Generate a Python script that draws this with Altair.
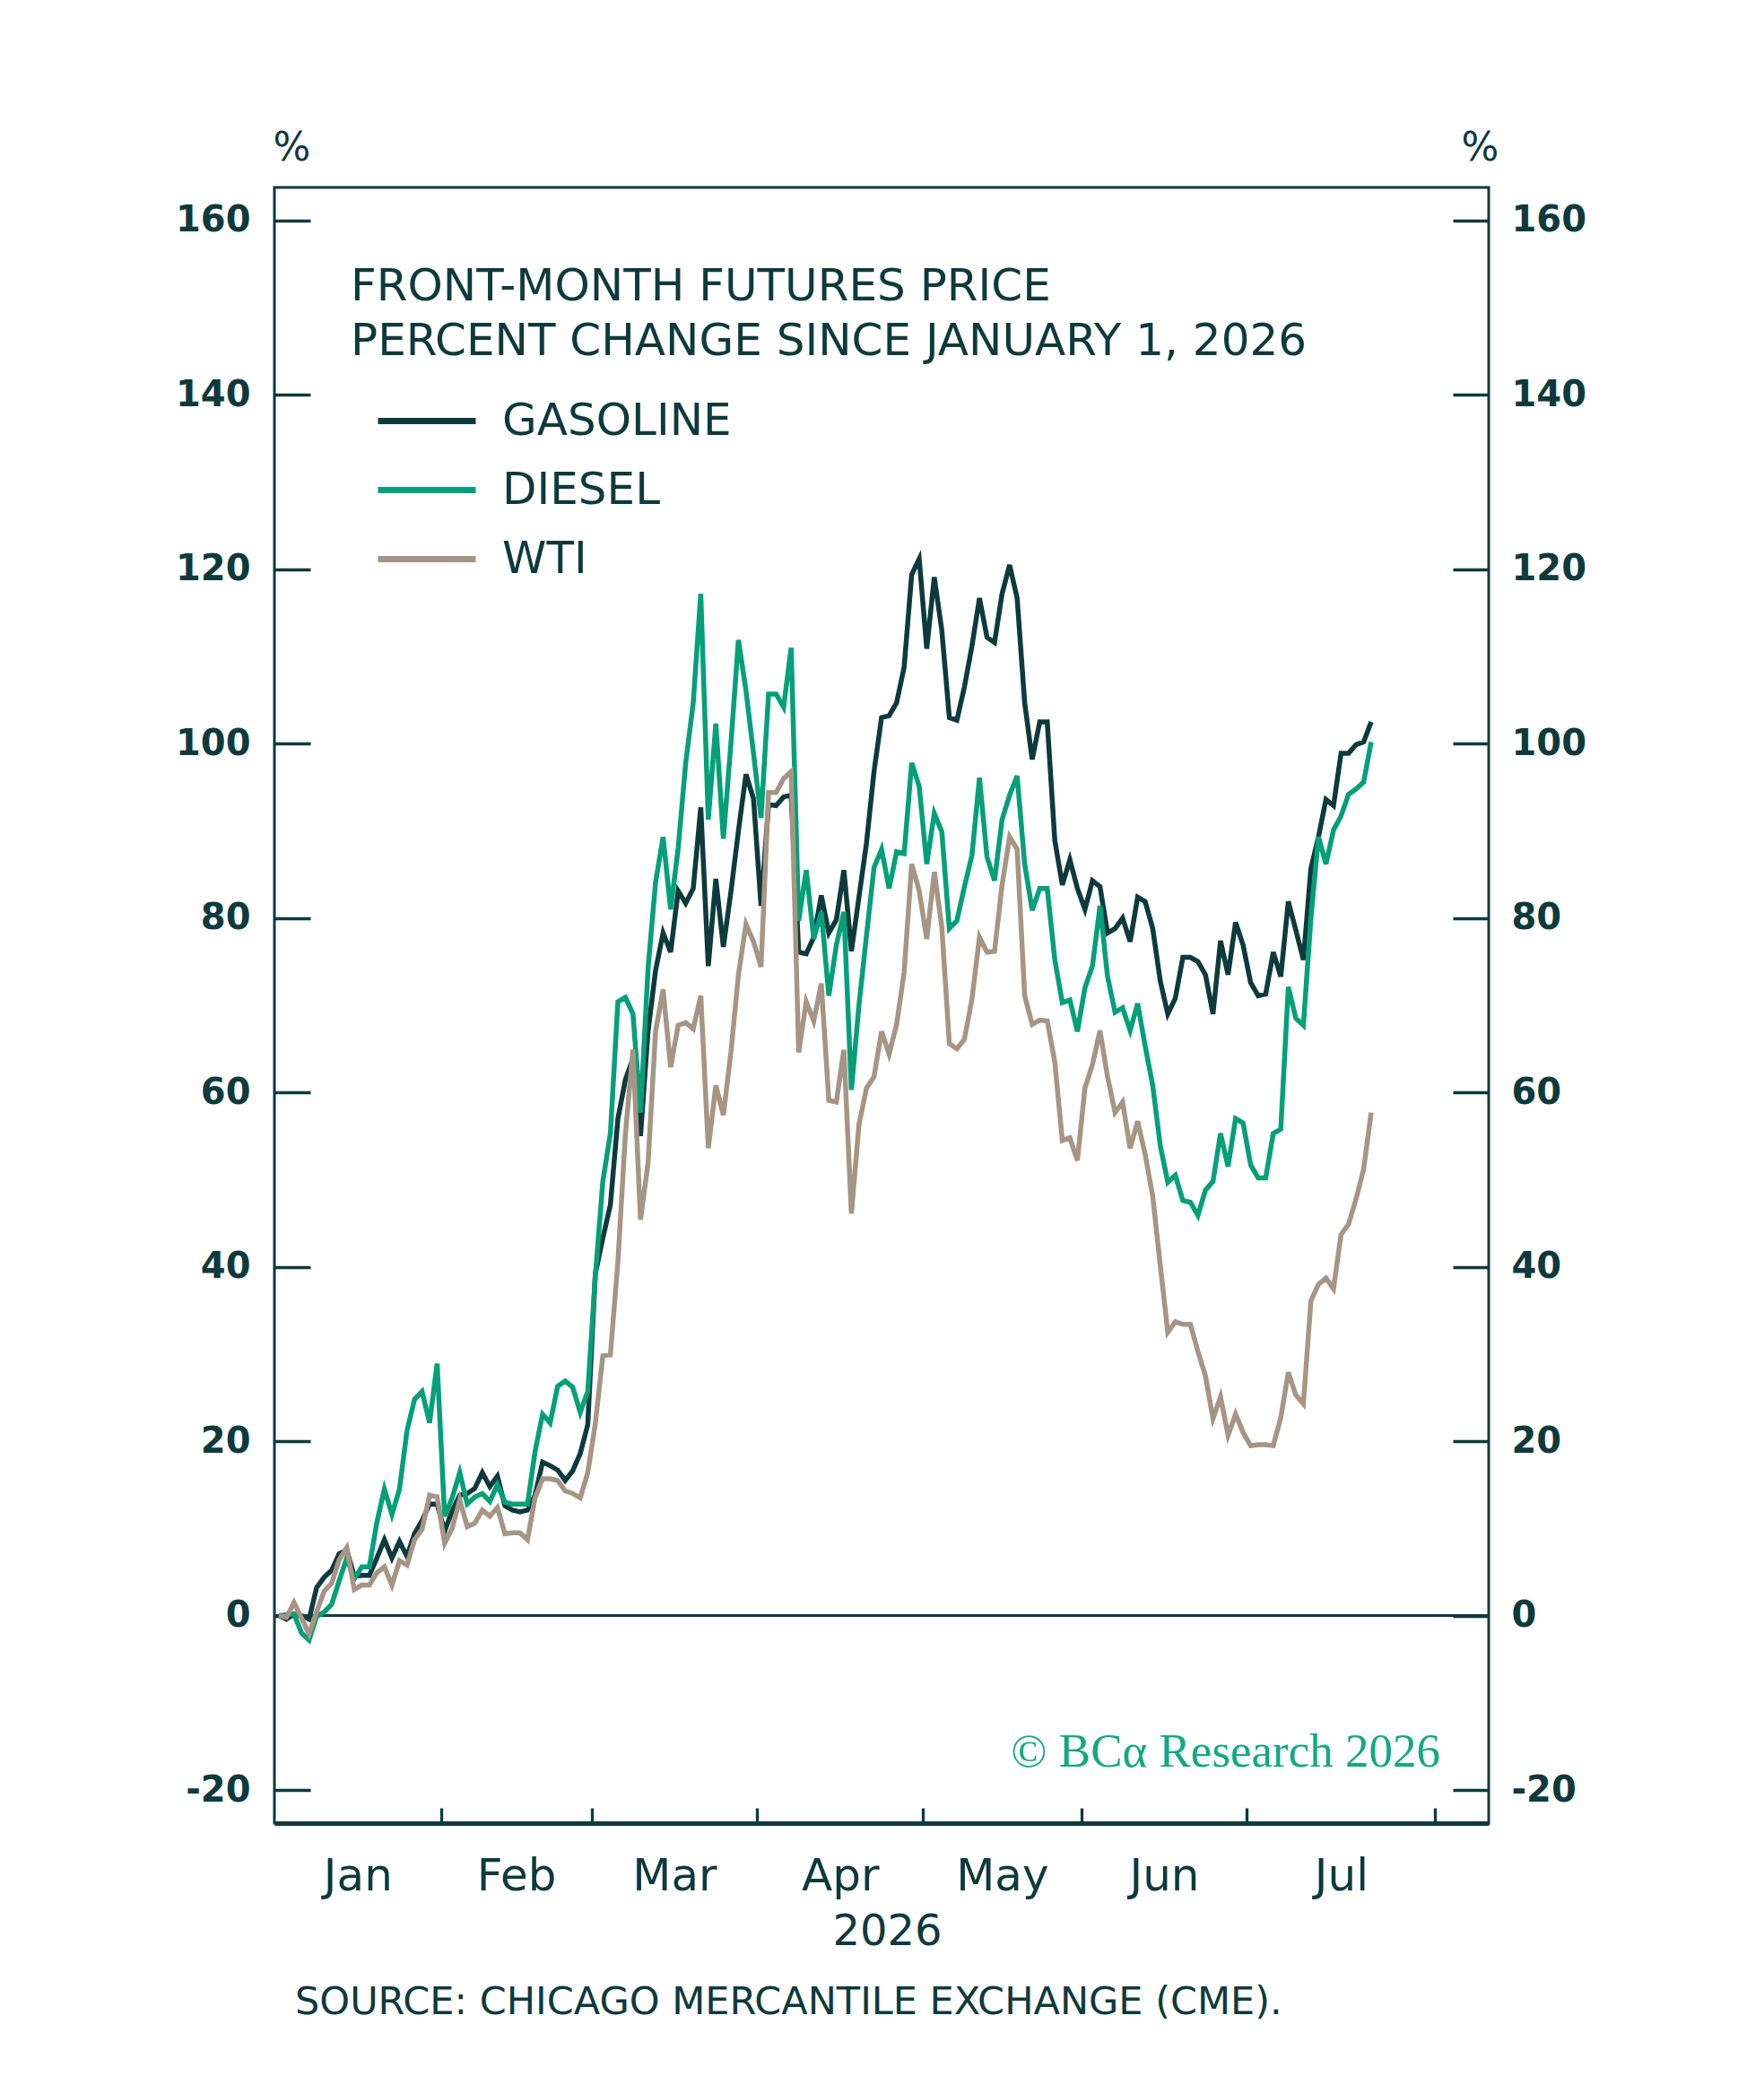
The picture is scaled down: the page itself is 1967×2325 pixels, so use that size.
import json
import pandas as pd
import altair as alt

# trading-day index since Jan 1 2026 (day 0 = Jan 1), % change
GASOLINE = [
    0, -0.4, 0.2, 0, -0.4, 3.2, 4.4, 5.2, 7.1, 7.5,
    4.5, 4.6, 4.6, 6.6, 8.7, 6.6, 8.5, 6.8, 9.4, 10.9,
    12.8, 12.8, 9.7, 12.0, 13.8, 14.0, 14.6, 16.4, 14.8, 16.0,
    12.6, 12.1, 11.9, 12.1, 13.8, 17.6, 17.2, 16.7, 15.5, 16.6,
    18.6, 21.9, 39.2, 43.3, 47.1, 57.0, 61.5, 63.9, 55.0, 67.0,
    74.0, 78.3, 76.1, 83.1, 81.7, 83.4, 92.7, 74.5, 84.5, 76.7,
    83.0, 90.0, 96.5, 93.7, 81.4, 93.0, 92.9, 93.9, 94.1, 76.1,
    75.9, 77.8, 82.6, 78.3, 79.8, 85.5, 76.2, 82.4, 88.6, 96.8,
    103.0, 103.2, 104.7, 108.8, 119.4, 121.2, 110.9, 119.1, 113.0, 103.0,
    102.7, 106.5, 111.2, 116.7, 112.2, 111.6, 117.2, 120.5, 116.7, 104.7,
    98.2, 102.5, 102.5, 88.9, 83.8, 86.7, 83.4, 81.0, 84.3, 83.6,
    78.3, 78.8, 80.0, 77.3, 82.4, 81.9, 78.8, 72.8, 69.0, 70.8,
    75.5, 75.5, 75.0, 73.5, 69.0, 77.4, 73.5, 79.5, 76.9, 72.6,
    71.1, 71.3, 76.1, 73.3, 81.9, 78.6, 75.2, 85.7, 89.3, 93.6,
    92.9, 98.9, 98.9, 99.9, 100.2, 102.5,
]
DIESEL = [
    0, 0.1, 0.2, -2.0, -2.8, -0.1, 0.4, 1.3, 4.0, 6.6,
    4.2, 5.6, 5.6, 10.7, 14.5, 11.6, 14.5, 21.2, 24.8, 25.7,
    22.1, 28.9, 11.4, 13.5, 16.4, 12.8, 13.6, 14.0, 13.1, 15.0,
    13.0, 12.8, 12.8, 12.8, 18.8, 23.1, 22.1, 26.3, 26.9, 26.2,
    23.3, 25.7, 38.9, 49.8, 55.3, 70.4, 70.9, 69.0, 57.7, 74.2,
    84.1, 89.3, 81.0, 88.0, 97.8, 104.7, 117.2, 91.3, 102.3, 89.1,
    100.0, 111.9, 106.1, 98.9, 91.5, 105.7, 105.7, 104.2, 111.0, 79.7,
    85.5, 77.6, 80.7, 71.1, 76.9, 80.7, 60.3, 70.0, 78.0, 85.8,
    87.9, 83.4, 87.6, 87.4, 97.8, 95.1, 86.2, 92.0, 89.9, 78.8,
    79.7, 83.6, 87.2, 96.1, 87.0, 84.3, 91.3, 94.1, 96.3, 86.2,
    80.9, 83.4, 83.4, 75.2, 70.3, 70.6, 67.0, 72.0, 74.5, 81.4,
    73.3, 69.2, 69.7, 67.1, 70.2, 65.3, 60.8, 53.9, 49.7, 50.5,
    47.6, 47.4, 45.9, 48.8, 49.8, 55.3, 51.5, 57.0, 56.5, 51.7,
    50.2, 50.2, 55.3, 55.8, 72.1, 68.5, 67.7, 80.0, 89.3, 86.2,
    90.1, 91.7, 94.2, 94.8, 95.6, 100.2,
]
WTI = [
    0, -0.2, 1.5, -0.3, -2.1, 0.4, 2.8, 3.7, 6.4, 7.8,
    3.0, 3.5, 3.5, 4.9, 5.6, 3.5, 6.3, 5.8, 8.7, 9.9,
    13.8, 13.6, 8.3, 10.0, 13.3, 10.2, 10.6, 12.1, 11.4, 12.4,
    9.4, 9.5, 9.5, 8.7, 13.5, 15.7, 15.7, 15.5, 14.3, 14.0,
    13.5, 16.4, 22.0, 29.8, 29.9, 40.6, 55.3, 64.9, 45.4, 51.9,
    67.0, 71.8, 62.9, 67.7, 68.0, 67.3, 71.1, 53.6, 60.8, 57.4,
    64.6, 73.5, 79.3, 77.3, 74.4, 94.4, 94.4, 96.0, 96.8, 64.6,
    70.4, 68.2, 72.5, 59.1, 58.9, 64.9, 46.1, 56.3, 60.5, 61.8,
    67.0, 64.4, 67.8, 73.8, 86.2, 83.1, 77.6, 85.3, 79.0, 65.6,
    65.0, 66.1, 70.7, 77.8, 76.1, 76.2, 83.8, 89.3, 87.9, 71.1,
    67.8, 68.3, 68.2, 63.5, 54.5, 54.8, 52.2, 60.5, 63.2, 67.1,
    61.8, 57.7, 58.9, 53.6, 56.7, 52.9, 48.1, 40.2, 32.5, 33.7,
    33.4, 33.4, 30.3, 27.5, 22.6, 25.1, 20.7, 23.1, 21.0, 19.5,
    19.6, 19.6, 19.5, 22.7, 27.9, 25.3, 24.3, 36.1, 38.0, 38.7,
    37.5, 43.7, 44.9, 47.8, 51.2, 57.7,
]

SERIES = ["GASOLINE", "DIESEL", "WTI"]
COLORS = ["#0e3a3d", "#05a078", "#a69584"]

Y_TICKS = [-20, 0, 20, 40, 60, 80, 100, 120, 140, 160]
MONTHS = ["Jan", "Feb", "Mar", "Apr", "May", "Jun", "Jul"]
MONTH_MID = [10.45, 31.5, 52.5, 74.5, 96, 117.5, 141]
MONTH_EDGES = [21.5, 41.5, 63.5, 85.5, 106.5, 128.5, 153.5]

TITLE = ["FRONT-MONTH FUTURES PRICE", "PERCENT CHANGE SINCE JANUARY 1, 2026"]
SOURCE = "SOURCE: CHICAGO MERCANTILE EXCHANGE (CME)."
COPYRIGHT = "\u00a9 BC\u03b1 Research 2026"

W, H = 1354, 1824
FONT = "DejaVu Sans"
INK = "#0e3a3d"

rows = []
for name, vals in zip(SERIES, [GASOLINE, DIESEL, WTI]):
    for i, v in enumerate(vals):
        rows.append({"day": i, "pct": v, "series": name})
df = pd.DataFrame(rows)

xs = alt.Scale(domain=[-0.6, 160.6], nice=False, zero=False)
ys = alt.Scale(domain=[-23.8, 163.8], nice=False, zero=False)

month_expr = f"{json.dumps(MONTHS)}[indexof({json.dumps(MONTH_MID)}, datum.value)]"

zero = alt.Chart(pd.DataFrame({"pct": [0]})).mark_rule(color=INK, strokeWidth=3).encode(
    y=alt.Y("pct:Q", scale=ys, axis=None)
)

lines = alt.Chart(df).mark_line(strokeWidth=5.5, strokeJoin="miter").encode(
    x=alt.X("day:Q", scale=xs,
            axis=alt.Axis(orient="bottom", values=MONTH_MID, labelExpr=month_expr,
                          ticks=False, tickSize=0, grid=False,
                          domainColor=INK, domainWidth=5,
                          labelFontSize=50, labelPadding=74, labelBaseline="alphabetic",
                          labelFlush=False, labelOverlap=False,
                          title="2026", titleFontSize=48, titleX=683, titleY=135,
                          titleAlign="center", titleBaseline="alphabetic")),
    y=alt.Y("pct:Q", scale=ys,
            axis=alt.Axis(orient="left", values=Y_TICKS, labelExpr="toString(datum.value)",
                          ticks=False, tickSize=0,
                          domain=False, grid=False, labelPadding=27, labelFontSize=40,
                          labelFontWeight="bold",
                          title="%", titleAngle=0, titleX=19, titleY=-31,
                          titleAlign="center", titleBaseline="alphabetic", titleFontSize=44)),
    color=alt.Color("series:N", scale=alt.Scale(domain=SERIES, range=COLORS),
                    legend=alt.Legend(orient="none", legendX=112, legendY=222,
                                      direction="vertical", title=None,
                                      symbolType="stroke", symbolSize=11881,
                                      symbolStrokeWidth=7, labelOffset=26,
                                      rowPadding=0, clipHeight=77, padding=0,
                                      labelLimit=0, labelFontSize=50, labelFont=FONT,
                                      labelColor=INK)),
)

# right-hand labels
right_labels = alt.Chart(df).mark_line(opacity=0).encode(
    x=alt.X("day:Q", scale=xs, axis=None),
    y=alt.Y("pct:Q", scale=ys,
            axis=alt.Axis(orient="right", values=Y_TICKS, labelExpr="toString(datum.value)",
                          ticks=False, tickSize=0,
                          domain=False, grid=False, labelPadding=25, labelFontSize=40,
                          labelFontWeight="bold",
                          title="%", titleAngle=0, titleX=-10, titleY=-31,
                          titleAlign="center", titleBaseline="alphabetic", titleFontSize=44)),
    detail="series:N",
)

# inward ticks: axes flipped and pushed across the plot
left_ticks = alt.Chart(df).mark_line(opacity=0).encode(
    x=alt.X("day:Q", scale=xs, axis=None),
    y=alt.Y("pct:Q", scale=ys,
            axis=alt.Axis(orient="right", offset=-W, values=Y_TICKS, labels=False,
                          tickSize=40, tickWidth=3.3, tickColor=INK,
                          domain=False, grid=False, title="")),
    detail="series:N",
)
right_ticks = alt.Chart(df).mark_line(opacity=0).encode(
    x=alt.X("day:Q", scale=xs, axis=None),
    y=alt.Y("pct:Q", scale=ys,
            axis=alt.Axis(orient="left", offset=-W, values=Y_TICKS, labels=False,
                          tickSize=40, tickWidth=3.3, tickColor=INK,
                          domain=False, grid=False, title="")),
    detail="series:N",
)
x_ticks = alt.Chart(df).mark_line(opacity=0).encode(
    x=alt.X("day:Q", scale=xs,
            axis=alt.Axis(orient="top", offset=-H, values=MONTH_EDGES, labels=False,
                          tickSize=17, tickWidth=3.3, tickColor=INK,
                          domain=False, grid=False, title="")),
    y=alt.Y("pct:Q", scale=ys, axis=None),
    detail="series:N",
)

title = alt.Chart(pd.DataFrame({"t": ["\n".join(TITLE)]})).mark_text(
    align="left", baseline="alphabetic", lineBreak="\n", lineHeight=61,
    fontSize=50, font=FONT, color=INK
).encode(text="t:N", x=alt.value(85), y=alt.value(126))

source = alt.Chart(pd.DataFrame({"t": [SOURCE]})).mark_text(
    align="left", baseline="alphabetic", fontSize=43, font=FONT, color=INK
).encode(text="t:N", x=alt.value(23), y=alt.value(2037))

copyright = alt.Chart(pd.DataFrame({"t": [COPYRIGHT]})).mark_text(
    align="right", baseline="alphabetic", fontSize=53, font="Liberation Serif", color="#12a97f"
).encode(text="t:N", x=alt.value(1300), y=alt.value(1761))

chart = alt.layer(
    zero, lines, right_labels, left_ticks, right_ticks, x_ticks, title, source, copyright
).resolve_axis(
    x="independent", y="independent"
).properties(
    width=W, height=H,
    autosize=alt.AutoSizeParams(type="none"),
    padding={"left": 298, "top": 201, "right": 299, "bottom": 284},
).configure_view(
    stroke=INK, strokeWidth=3
).configure_axis(
    labelFont=FONT, titleFont=FONT, labelColor=INK, titleColor=INK,
    titleFontWeight="normal"
)

chart.save("out.html", embed_options={"renderer": "svg", "actions": False})
